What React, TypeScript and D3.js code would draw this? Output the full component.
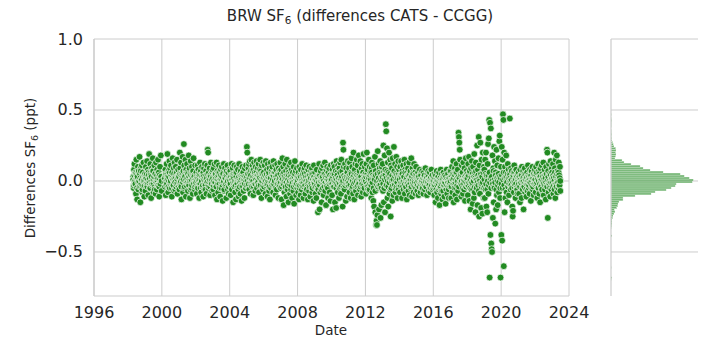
import * as d3 from 'd3';

// differences CATS - CCGG, hundredths of ppt, one run per year
const d1998 = [3, -5, 8, 12, -2, 0, 6, -9, 15, 4, -13, 2, 10, -6, 7, -1, 17, 5, -15, 9, -4, 1, 11, -8, 6, -3, 13, 0, -11, 4];
const d1999 = [5, -7, 10, 2, -3, 14, -1, 8, -10, 4, 19, 0, -5, 12, 6, -12, 3, 9, -2, 16, 7, -8, 1, 11, -4, 5, -9, 13, 2, -6, 8, 0, 15, -3, 6, -11, 4, 10, -1, 18, 3, -7];
const d2000 = [2, -4, 8, -10, 5, 12, -2, 19, 3, -8, 7, 0, 14, -5, 9, -1, 11, 4, -11, 6, 16, -3, 1, 9, -7, 13, 2, -6, 10, 5, -2, 15, -9, 3, 8, -4];
const d2001 = [4, -6, 20, 9, -2, 13, -13, 5, 1, 17, -8, 7, 26, 11, -4, 3, 15, -11, 8, -1, 12, 6, -7, 2, 18, -3, 9, -12, 5, 14, 0, -5, 10, 3, -9, 7, 16, -2, 4, -6, 11, 1];
const d2002 = [-3, 6, -9, 2, 11, -5, 8, 0, -12, 4, 13, -2, 7, -8, 1, 10, -4, 5, -11, 3, 9, -6, 12, 0, -3, 7, -9, 2, 11, 22, 20, -5, 6, -1, 9, -10, 4, 13, -2, 1, -7, 8];
const d2003 = [3, -6, 9, -1, 12, -10, 5, 2, -4, 13, -13, 7, 0, -8, 4, 11, -2, 6, -11, 1, 8, -5, 10, 3, -14, 6, -1, 12, -7, 2, 9, -3, 5, -12, 7, 0, 11, -6, 4, -9, 2, 8];
const d2004 = [-2, 7, -10, 4, 12, -6, 1, 9, -15, 5, -3, 11, 0, -8, 6, -13, 3, 10, -1, -5, 8, 2, -11, 12, -4, 5, -9, 7, 0, -14, 4, 10, -2, 6, -7, 3, -12, 9, 1, -5, 11, -3];
const d2005 = [24, 20, 5, -3, 9, 12, -6, 14, 2, -9, 7, 15, 0, -4, 11, 3, -10, 8, 13, -2, 6, -7, 10, 1, 14, -5, 4, 9, -1, 12, -8, 6, 2, 15, -3, 7, -12, 11, 0, 5, -6, 13];
const d2006 = [6, -4, 11, 1, -9, 14, 3, -2, 8, -11, 12, 0, 5, -7, 9, -13, 2, 13, -5, 7, -1, 10, 4, -8, 14, -3, 6, 0, 11, -10, 3, 8, -6, 12, -2, 5, -12, 9, 1, -4, 7, 13];
const d2007 = [-5, 8, -13, 3, 16, -2, 10, -17, 6, -8, 1, 12, -4, 7, -11, 15, 2, -6, 9, -15, 4, -1, 11, -9, 5, 13, -3, 8, -12, 0, 6, -7, 10, -16, 3, 14, -2, 7, -10, 1, 9, -5];
const d2008 = [2, -8, 6, -13, 10, -3, 4, -10, 8, 0, -6, 12, -1, 5, -12, 7, -4, 9, 1, -9, 3, 11, -5, 6, -2, -13, 8, 0, -7, 10, 4, -11, 2, 7, -4, 9, -8, 1, 5, -14, 11, -1];
const d2009 = [-4, 6, -9, 1, -12, 8, -3, 3, -22, -6, -1, 12, -20, 4, -8, 7, 0, -15, 9, 2, -5, 11, -10, 5, -2, 13, -7, 3, -17, 8, -4, 10, 1, -12, 6, -1, 9, -8, 4, -14, 11, 0];
const d2010 = [3, -10, 8, -20, 5, 12, -4, 10, -15, 0, 7, -19, 14, -2, 6, -8, 11, 2, -12, 9, -5, 13, 1, -9, 15, -3, 7, -18, 27, 22, 10, 4, -6, 12, -1, -14, 9, 3, -11, 6, 14, -2];
const d2011 = [-3, 9, -8, 13, 2, -12, 6, 16, -5, 10, 0, -9, 20, 4, -13, 8, -1, 12, -7, 5, 15, -4, 11, -10, 3, 18, -2, 7, -6, 14, 1, -11, 9, -3, 12, -8, 6, 19, 0, -5, 10, 2];
const d2012 = [5, -9, 12, 20, -4, 8, -6, 3, 15, -7, 10, -2, 6, 1, -12, 9, 13, -8, 4, -14, 11, -18, 2, 17, -22, 7, -31, -28, -31, -24, 21, -5, 12, -20, -3, 9, 14, -26, 5, -17, 10, 0];
const d2013 = [12, -7, 25, -15, 4, 18, -22, 8, 40, 35, -3, 23, -12, 13, -18, 6, 20, -9, 2, 15, -25, 11, -5, 9, -14, 16, 0, -10, 24, 7, -3, 12, -8, 5, 17, -4, 10, -12, 3, 14, -6, 8];
const d2014 = [2, -8, 10, -3, 14, 5, -12, 7, -1, 11, -6, 3, 15, -9, 8, 0, -4, 12, -13, 6, -2, 9, -7, 4, 13, -10, 1, 7, -5, 16, 3, -11, 9, -2, 5, -8, 12, 0, -4, 6, -9, 10];
const d2015 = [-2, 4, -7, 1, 6, -10, 3, -4, 8, -1, -8, 5, 0, -5, 7, -3, 2, -9, 6, -1, 4, -6, 9, 0, -4, 3, -10, 5, -2, 7, -7, 1, -3, 6, -8, 2, -5, 8, -1, 4, -6, 0];
const d2016 = [-5, 2, -10, 5, -3, -15, 4, -1, 7, -8, 0, -12, 3, -6, 6, -17, 1, -4, 8, -9, -2, 5, -13, 2, -7, 6, -3, -11, 4, -1, -16, 3, -6, 8, -9, 0, 5, -4, -12, 2, -2, 7];
const d2017 = [-4, 7, -12, 3, 10, -8, 1, 14, -15, 5, -2, 9, -10, 6, -5, 12, -13, 2, 8, -7, 34, 31, 27, 22, 15, -1, 4, -11, 11, -3, 6, -9, 13, 0, -6, 9, -14, 3, 16, -4, 7, -2];
const d2018 = [5, -10, 12, -3, 17, -14, 7, 0, -20, 9, -6, 14, -1, -16, 10, 3, -12, 19, -8, 6, -22, 13, 1, -5, 25, -17, 8, -3, 31, -25, 11, -9, 27, 4, -19, 15, -2, -23, 20, 7, -12, 10];
const d2019 = [8, -12, 15, -6, 20, -18, 4, -22, 12, 26, -9, 30, 43, -68, 41, -38, 37, -44, -48, -50, 18, -26, 9, -15, 24, -5, 14, -30, 6, -20, 22, -10, 11, -17, 3, 16, -8, 28, 32, -12, -68, 10];
const d2020 = [-38, 24, -42, 15, 47, 43, -60, 20, -22, 10, -12, 6, 18, -8, 3, -15, 12, -4, 8, -10, 5, 44, 2, -6, 9, -3, 7, -18, -25, -21, 4, -8, 11, -2, 6, -12, 1, 8, -5, 3, -9, 5];
const d2021 = [-3, 6, -9, 2, -15, 8, -1, 4, -12, 10, 0, -6, 7, -20, 3, -4, 9, -8, 1, 5, -11, -2, 6, -7, 11, 0, -5, 3, -9, 8, -1, -14, 4, 7, -3, 10, -6, 2, -10, 5, -2, 8];
const d2022 = [4, -8, 10, -2, 6, -12, 1, 12, -5, 7, -9, 3, -15, 9, 0, -4, 11, -7, 5, -1, 13, -10, 2, 8, -6, 4, -13, 10, -3, 22, 20, -26, 7, -8, 12, -2, 5, -11, 14, 0, -6, 9];
const d2023 = [6, -4, 12, -9, 2, 20, -6, 9, -12, 15, 3, -2, 18, -8, 7, 0, -5, 13, 4, -3, 10, -7];

// second sample of each year, the dense core near zero (hundredths of ppt)
const c1998 = [1, -3, 4, 0, -2, 5, 2, -5, 3, -1, 6, 0, -4, 2, 7, -2, 1, -6, 3, 0, 4, -3];
const c1999 = [0, 3, -2, 5, -4, 1, 6, -1, 2, -5, 4, 0, -3, 7, 1, -2, 3, -6, 5, 0, -1, 4, -3, 2, 6, -4, 1, -2, 3, 0];
const c2000 = [2, -1, 4, -3, 0, 5, 1, -4, 3, 6, -2, 0, 4, -5, 2, 1, -3, 5, 0, -1, 3, -4, 6, 1, -2, 4];
const c2001 = [3, -2, 5, 0, -4, 2, 6, -1, 1, -5, 4, 0, 7, -3, 2, -1, 5, -2, 3, 0, -6, 4, 1, -3, 6, 2, -1, 3, -4, 0];
const c2002 = [-1, 3, 0, -4, 2, 5, -2, 1, -5, 4, 0, 3, -3, 6, 1, -2, 2, -6, 4, 0, -1, 5, -3, 2, 1, -4, 3, 0, -2, 6];
const c2003 = [2, -3, 0, 4, -1, 5, -4, 1, 3, -2, 6, 0, -5, 2, 4, -1, 1, -3, 5, 0, -6, 3, 2, -2, 4, -1, 0, 6, -4, 1];
const c2004 = [0, -2, 3, -5, 1, 4, -1, 2, -4, 5, -3, 0, 6, -2, 1, -6, 3, 0, -1, 4, -3, 2, 5, -4, 0, 1, -2, 3, -5, 2];
const c2005 = [3, 0, 5, -2, 2, 6, -1, 4, -3, 1, 7, 0, -4, 3, 5, -2, 2, 6, -1, 0, 4, -3, 3, 8, -2, 1, 5, 0, -4, 2];
const c2006 = [2, -1, 4, 0, -3, 5, 1, -2, 3, 6, -4, 0, 2, -1, 5, -3, 1, 4, -2, 0, 6, -5, 3, 1, -1, 4, 0, -3, 2, 5];
const c2007 = [-1, 2, -4, 1, 5, -2, 0, 3, -5, 2, -1, 4, -3, 1, 6, -2, 0, 3, -6, 1, 4, -1, 2, -4, 0, 5, -3, 1, -2, 3];
const c2008 = [0, -3, 2, -5, 1, 3, -2, 0, 4, -4, 1, -1, 5, -3, 2, 0, -6, 3, -1, 1, 4, -4, 0, 2, -2, 5, -5, 1, -1, 3];
const c2009 = [-2, 1, -4, 3, 0, -5, 2, -1, 4, -3, 0, 2, -6, 1, 3, -2, 0, -4, 5, -1, 2, -3, 1, -5, 3, 0, -2, 4, -1, 1];
const c2010 = [1, -2, 3, -4, 0, 5, -1, 2, -5, 1, 4, -3, 0, 2, -2, 6, -4, 1, 3, -1, 0, -5, 4, 2, -3, 1, 5, -2, 0, 3];
const c2011 = [2, -1, 4, -3, 1, 5, 0, -4, 3, -2, 6, 1, -5, 2, 0, 4, -3, 1, -1, 5, 2, -4, 3, 0, -2, 6, 1, -3, 4, 0];
const c2012 = [0, 3, -2, 5, -4, 1, 2, -6, 4, 0, -3, 6, -1, 2, -5, 3, 1, -7, 4, -2, 0, 5, -4, 2, -1, 6, -3, 1, -5, 3];
const c2013 = [3, -2, 6, -5, 1, 4, -3, 2, 7, 0, -4, 3, -1, 5, -6, 2, 0, 4, -3, 1, 6, -2, 3, -5, 0, 4, -1, 2, -4, 5];
const c2014 = [1, -3, 4, -1, 2, 5, -4, 0, 3, -2, 6, -5, 1, 2, -1, 4, -3, 0, 5, -2, 1, -4, 3, 0, 6, -3, 2, -1, 4, -5];
const c2015 = [-1, 2, -3, 0, 3, -4, 1, -2, 4, -1, 0, -5, 2, -2, 3, -3, 1, -4, 2, 0, -1, 3, -2, 1, -5, 2, 0, -3, 4, -1];
const c2016 = [-2, 0, -4, 2, -1, -6, 1, -3, 3, -2, 0, -5, 2, -4, 1, -7, 0, -2, 3, -3, -1, 2, -5, 1, -3, 0, -1, -6, 2, -2];
const c2017 = [0, 3, -4, 1, 5, -2, 2, -5, 4, -1, 1, 6, -3, 0, 3, -4, 2, -1, 5, -2, 0, 4, -5, 1, -2, 3, 0, -4, 2, 1];
const c2018 = [2, -3, 4, -1, 6, -5, 1, 3, -2, 5, -6, 0, 3, -4, 2, 7, -3, 1, -1, 4, -7, 2, 0, -2, 5, -4, 3, -1, 6, -5];
const c2019 = [1, -4, 5, -2, 3, -6, 0, 4, -3, 6, -1, 2, -5, 3, 0, -2, 7, -4, 1, -1, 4, -6, 2, 0, -3, 5, -1, 3, -5, 2];
const c2020 = [-2, 4, -5, 1, 6, -3, 2, -6, 3, 0, -1, 5, -4, 2, -2, 4, 0, -3, 1, -5, 3, -1, 6, -4, 0, 2, -2, 4, -6, 1];
const c2021 = [0, -2, 3, -4, 1, -1, 4, -5, 2, 0, -3, 5, -1, 1, -6, 2, 0, -2, 4, -3, 1, -1, 3, -5, 0, 2, -4, 5, -2, 1];
const c2022 = [1, -3, 4, -1, 2, -5, 0, 5, -2, 3, -4, 1, -6, 3, 0, -2, 4, -3, 2, -1, 5, -4, 1, 3, -2, 0, -5, 4, -1, 2];
const c2023 = [2, -1, 4, -3, 0, 6, -2, 3, -4, 5, 1, -1, 6, -3, 2, 0];

// [year, first fraction of year, last fraction of year, values, core values]
const yearRuns: [number, number, number, number[], number[]][] = [
  [1998, 0.3, 1, d1998, c1998], [1999, 0, 1, d1999, c1999], [2000, 0.15, 1, d2000, c2000],
  [2001, 0, 1, d2001, c2001], [2002, 0, 1, d2002, c2002], [2003, 0, 1, d2003, c2003],
  [2004, 0, 1, d2004, c2004], [2005, 0, 1, d2005, c2005], [2006, 0, 1, d2006, c2006],
  [2007, 0, 1, d2007, c2007], [2008, 0, 1, d2008, c2008], [2009, 0, 1, d2009, c2009],
  [2010, 0, 1, d2010, c2010], [2011, 0, 1, d2011, c2011], [2012, 0, 1, d2012, c2012],
  [2013, 0, 1, d2013, c2013], [2014, 0, 1, d2014, c2014], [2015, 0, 1, d2015, c2015],
  [2016, 0, 1, d2016, c2016], [2017, 0, 1, d2017, c2017], [2018, 0, 1, d2018, c2018],
  [2019, 0, 1, d2019, c2019], [2020, 0, 1, d2020, c2020], [2021, 0, 1, d2021, c2021],
  [2022, 0, 1, d2022, c2022], [2023, 0, 0.5, d2023, c2023],
];

// marginal histogram, bins of 0.014 ppt starting at -0.70
const histStart = -0.7;
const histStep = 0.014;
const histCounts = [
  1, 3, 0, 0, 0, 0, 1, 0, 0, 0, 0, 0, 0, 0, 0, 0, 0, 0, 0, 0, 0, 0,
  3, 0, 0, 0, 1, 2, 3, 3, 3, 5, 6, 9, 12, 10, 17, 20, 21, 24, 36, 36,
  72, 120, 132, 165, 180, 192, 195, 243, 246, 234, 219, 207, 156, 117, 96, 87, 60, 39, 33,
  12, 14, 15, 14, 15, 14, 9, 7, 5, 3, 2, 1, 2, 1, 1, 0, 1, 1, 1, 2, 1, 0, 1, 0,
];

const xTicks = [1996, 2000, 2004, 2008, 2012, 2016, 2020, 2024];
const yTicks = [-0.5, 0, 0.5, 1.0];

const font = 'DejaVu Sans, sans-serif';
const ink = '#262626';
const grid = '#cccccc';

export default function App() {
  const x = d3.scaleLinear().domain([1996, 2024]).range([94, 569]);
  const y = d3.scaleLinear().domain([-0.81, 1.0]).range([296, 39]);
  const xh = d3.scaleLinear().domain([0, 260]).range([611, 698]);
  const fmt = d3.format('.1f');

  const spread = (yr: number, a: number, b: number, vals: number[]) =>
    vals.map((v, i) => ({ t: yr + a + ((b - a) * (i + 0.5)) / vals.length, v: v / 100 }));
  const points = yearRuns
    .flatMap(([yr, a, b, vals, core]) => [...spread(yr, a, b, vals), ...spread(yr, a, b, core)])
    .sort((p, q) => p.t - q.t);

  const bins = histCounts.map((c, i) => ({
    lo: histStart + i * histStep,
    hi: histStart + (i + 1) * histStep,
    c,
  }));

  return (
    <div style={{ position: 'absolute', left: 0, top: 0 }}>
      <svg width={720} height={360} style={{ display: 'block', fontFamily: font }}>
        <rect width={720} height={360} fill="white" />
        <text x={360} y={21} textAnchor="middle" fontSize={15} fill={ink}>
          BRW SF<tspan fontSize={10.5} dy={3}>6</tspan>
          <tspan dy={-3}> (differences CATS - CCGG)</tspan>
        </text>

        {/* main grid */}
        {xTicks.map(t => (
          <line key={'gx' + t} x1={x(t)} x2={x(t)} y1={39} y2={296} stroke={grid} strokeWidth={1} />
        ))}
        {yTicks.map(t => (
          <line key={'gy' + t} x1={94} x2={569} y1={y(t)} y2={y(t)} stroke={grid} strokeWidth={1} />
        ))}
        <line x1={94} x2={94} y1={39} y2={296} stroke={grid} strokeWidth={1.2} />
        <line x1={94} x2={569} y1={296} y2={296} stroke={grid} strokeWidth={1.2} />

        {points.map((p, i) => (
          <circle key={i} cx={x(p.t)} cy={y(p.v)} r={3.4} fill="#228b22" stroke="white" strokeWidth={0.7} />
        ))}

        {xTicks.map(t => (
          <text key={'lx' + t} x={x(t)} y={318} textAnchor="middle" fontSize={16} fill={ink}>{t}</text>
        ))}
        {yTicks.map(t => (
          <text key={'ly' + t} x={83} y={y(t) + 5.5} textAnchor="end" fontSize={16} fill={ink}>{fmt(t)}</text>
        ))}
        <text x={331} y={335} textAnchor="middle" fontSize={13.5} fill={ink}>Date</text>
        <text transform={`translate(35,168) rotate(-90)`} textAnchor="middle" fontSize={13.5} fill={ink}>
          Differences SF<tspan fontSize={9.5} dy={3}>6</tspan>
          <tspan dy={-3}> (ppt)</tspan>
        </text>

        {/* marginal histogram */}
        {yTicks.map(t => (
          <line key={'hy' + t} x1={611} x2={698} y1={y(t)} y2={y(t)} stroke={grid} strokeWidth={1} />
        ))}
        {bins.filter(b => b.c > 0).map((b, i) => (
          <rect key={'b' + i} x={xh(0)} y={y(b.hi)} width={xh(b.c) - xh(0)} height={y(b.lo) - y(b.hi)}
            fill="#228b22" fillOpacity={0.65} stroke="white" strokeWidth={0.3} />
        ))}
        <line x1={611} x2={611} y1={39} y2={296} stroke={grid} strokeWidth={1.2} />
      </svg>
    </div>
  );
}
